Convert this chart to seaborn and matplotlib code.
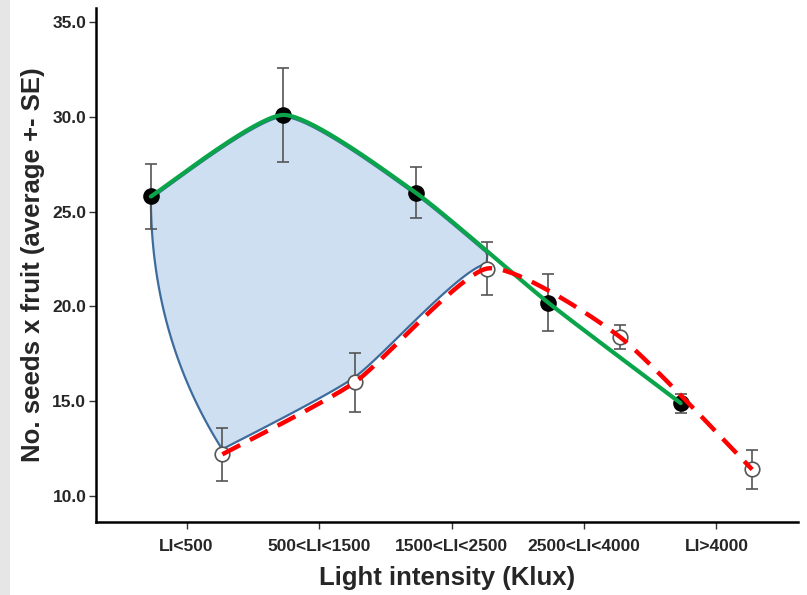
import numpy as np
import pandas as pd
import matplotlib
matplotlib.use("Agg")
import matplotlib.pyplot as plt
import seaborn as sns
from matplotlib.patches import Polygon, Rectangle

# ---- data ----
categories = ["LI<500", "500<LI<1500", "1500<LI<2500", "2500<LI<4000", "LI>4000"]
filled_mean = [25.8, 30.1, 26.0, 20.2, 14.9]
filled_se = [1.7, 2.5, 1.35, 1.5, 0.5]
open_mean = [12.2, 16.0, 22.0, 18.4, 11.4]
open_se = [1.4, 1.55, 1.4, 0.62, 1.05]
y_ticks = [10.0, 15.0, 20.0, 25.0, 30.0, 35.0]

OFF = 0.27

sns.set_theme(style="white")
plt.rcParams['font.family'] = ['Liberation Sans', 'DejaVu Sans']

fig = plt.figure(figsize=(8.07, 5.95), dpi=100)
fig.patches.append(Rectangle((0, 0), 10 / 807, 1, transform=fig.transFigure,
                             facecolor="#e6e6e6", edgecolor="none", zorder=0))
ax = fig.add_axes([96 / 807, 73 / 595, 702 / 807, 514 / 595])

xc = np.arange(len(categories))
xf = xc - OFF
xo = xc + OFF


def cardinal(xs, ys, k=0.3, n=40):
    """Smooth curve through the points (cardinal spline, tangent scale k)."""
    P = np.column_stack([xs, ys]).astype(float)
    Pe = np.vstack([P[0], P, P[-1]])
    out = []
    for i in range(1, len(Pe) - 2):
        p0, p1, p2, p3 = Pe[i - 1], Pe[i], Pe[i + 1], Pe[i + 2]
        m1 = k * (p2 - p0)
        m2 = k * (p3 - p1)
        t = np.linspace(0, 1, n, endpoint=False)[:, None]
        h00 = 2 * t ** 3 - 3 * t ** 2 + 1
        h10 = t ** 3 - 2 * t ** 2 + t
        h01 = -2 * t ** 3 + 3 * t ** 2
        h11 = t ** 3 - t ** 2
        out.append(h00 * p1 + h10 * m1 + h01 * p2 + h11 * m2)
    out.append(Pe[-2][None, :])
    c = np.vstack(out)
    return c[:, 0], c[:, 1]


gx, gy = cardinal(xf, filled_mean, k=0.3)
rx, ry = cardinal(xo, open_mean, k=0.3)

# shaded region between the two curves (left part)
xcut = xo[2]
top_mask = gx <= xcut
tx = np.append(gx[top_mask], xcut)
ty = np.append(gy[top_mask], np.interp(xcut, gx, gy) - 0.1)
bmask = rx <= xcut
bx = rx[bmask][::-1] - 0.005
by = ry[bmask][::-1] + 0.25
# left edge: quadratic bezier from open[0] to filled[0]
t = np.linspace(0, 1, 50)[:, None]
P0 = np.array([xo[0], open_mean[0] + 0.25])
P1 = np.array([xf[0], 18.4])
P2 = np.array([xf[0], filled_mean[0]])
bez = (1 - t) ** 2 * P0 + 2 * (1 - t) * t * P1 + t ** 2 * P2
poly_x = np.concatenate([tx, bx, bez[:, 0]])
poly_y = np.concatenate([ty - 0.1, by, bez[:, 1]])
ax.add_patch(Polygon(np.column_stack([poly_x, poly_y]), closed=True,
                     facecolor="#cddff0", edgecolor="#3d6c9c", linewidth=1.6, zorder=1))

# error bars
ax.errorbar(xf, filled_mean, yerr=filled_se, fmt="none", ecolor="#555555",
            elinewidth=1.2, capsize=4, capthick=1.2, zorder=2)
ax.errorbar(xo, open_mean, yerr=open_se, fmt="none", ecolor="#555555",
            elinewidth=1.2, capsize=4, capthick=1.2, zorder=2)

# points
df_f = pd.DataFrame({"x": xf, "y": filled_mean})
df_o = pd.DataFrame({"x": xo, "y": open_mean})
sns.scatterplot(data=df_f, x="x", y="y", ax=ax, s=120, color="black",
                edgecolor="black", linewidth=1, zorder=3)
sns.scatterplot(data=df_o, x="x", y="y", ax=ax, s=110, color="white",
                edgecolor="#555555", linewidth=1.2, zorder=3)

# lines
ax.plot(gx, gy, color="#0aa54a", linewidth=3.0, solid_capstyle="round", zorder=4)
ax.plot(rx, ry, color="#ff0000", linewidth=3.2, dashes=(4.5, 2.5), zorder=4)

ax.set_xlim(-0.684, 4.616)
ax.set_ylim(8.63, 35.74)
ax.set_xticks(xc)
ax.set_xticklabels(categories, fontsize=12.5, fontweight="bold")
ax.set_yticks(y_ticks)
ax.set_yticklabels([f"{v:.1f}" for v in y_ticks], fontsize=12.5, fontweight="bold")
ax.set_xlabel("Light intensity (Klux)", fontsize=18.5, fontweight="bold", labelpad=9)
ax.set_ylabel("No. seeds x fruit (average +- SE)", fontsize=18.5, fontweight="bold", labelpad=5)

for s in ["top", "right"]:
    ax.spines[s].set_visible(False)
for s in ["left", "bottom"]:
    ax.spines[s].set_color("black")
    ax.spines[s].set_linewidth(1.8)
ax.tick_params(axis="both", which="major", direction="out", length=5, width=1.0,
               color="#333333", bottom=True, left=True, pad=2)
ax.tick_params(axis="x", pad=7)
ax.set_facecolor("white")
ax.grid(False)

fig.savefig("out.png", dpi=100)
